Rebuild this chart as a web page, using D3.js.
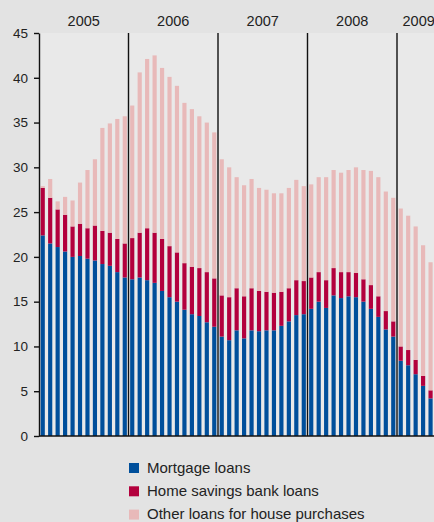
<!DOCTYPE html>
<html>
<head>
<meta charset="utf-8">
<script src="https://cdn.jsdelivr.net/npm/d3@7"></script>
<style>
  body { margin: 0; background: #e3e3e3; }
  svg { display: block; font-family: "Liberation Sans", Arial, sans-serif; }
</style>
</head>
<body>
<div id="chart"></div>
<script>
// years shown on top, months per year present in the chart
const years = ['2005', '2006', '2007', '2008', '2009'];
const monthsInYear = [12, 12, 12, 12, 5];

// percent, one value per month (Jan 2005 - May 2009)
const mortgage = [
  22.4, 21.5, 21.1, 20.6, 20.0, 20.1, 19.8, 19.6, 19.2, 19.0, 18.3, 17.7,
  17.5, 17.7, 17.4, 17.1, 16.2, 15.5, 15.0, 14.1, 13.6, 13.4, 12.7, 12.2,
  11.1, 10.7, 11.8, 10.9, 11.8, 11.7, 11.8, 11.8, 12.3, 12.8, 13.5, 13.6,
  14.2, 15.0, 14.3, 15.7, 15.4, 15.6, 15.5, 15.0, 14.2, 13.3, 11.9, 11.1,
  8.4, 7.9, 6.9, 5.6, 4.2
];
const homeSavings = [
  5.3, 5.1, 4.2, 4.1, 3.4, 3.6, 3.4, 3.9, 3.7, 3.7, 3.7, 3.8,
  4.6, 5.0, 5.8, 5.6, 5.8, 5.7, 5.5, 5.2, 5.3, 5.35, 5.6, 5.4,
  4.6, 4.8, 4.7, 4.7, 4.7, 4.5, 4.3, 4.2, 3.8, 3.7, 3.9, 3.7,
  3.5, 3.3, 3.1, 3.05, 2.9, 2.7, 2.7, 2.5, 2.65, 2.3, 2.05, 1.7,
  1.6, 1.7, 1.6, 1.1, 0.9
];
const otherLoans = [
  0.2, 2.1, 0.9, 2.0, 2.9, 4.6, 6.5, 7.4, 11.5, 12.2, 13.4, 14.2,
  14.8, 17.9, 18.9, 19.8, 19.1, 18.9, 18.6, 17.9, 17.6, 16.95, 16.7, 16.3,
  15.2, 14.5, 12.4, 12.4, 12.2, 11.5, 11.4, 11.1, 11.0, 11.2, 11.2, 10.6,
  10.4, 10.6, 11.5, 10.95, 11.1, 11.4, 11.8, 12.2, 12.75, 13.3, 13.35, 13.8,
  15.4, 15.0, 14.9, 14.6, 14.3
];
const yTicks = [0, 5, 10, 15, 20, 25, 30, 35, 40, 45];
const seriesNames = ['Mortgage loans', 'Home savings bank loans', 'Other loans for house purchases'];
const colours = ['#004f9b', '#b3003d', '#e8b9b9'];

// month categories
const months = [];
years.forEach((y, i) => {
  for (let m = 1; m <= monthsInYear[i]; m++) months.push(y + '-' + m);
});

const rows = months.map((m, i) => ({
  month: m, mortgage: mortgage[i], homeSavings: homeSavings[i], other: otherLoans[i]
}));

const width = 434;
const height = 522;
const plotLeft = 39;
const plotTop = 33;
const plotBottom = 436;
const step = 89.5 / 12;

const xScale = d3.scaleBand()
  .domain(months)
  .range([plotLeft, plotLeft + months.length * step])
  .paddingInner(0.44)
  .paddingOuter(0.22);

const yScale = d3.scaleLinear()
  .domain([0, 45])
  .range([plotBottom, plotTop]);

const stack = d3.stack().keys(['mortgage', 'homeSavings', 'other']);
const layers = stack(rows);

let svg = d3.select('#chart')
  .append('svg')
    .attr('width', width)
    .attr('height', height);

// plot background
svg.append('rect')
  .attr('x', plotLeft)
  .attr('y', plotTop)
  .attr('width', width - plotLeft)
  .attr('height', plotBottom - plotTop)
  .attr('fill', '#e9e9e9');

svg.selectAll('g.layer')
  .data(layers)
  .enter()
  .append('g')
    .attr('class', 'layer')
    .attr('fill', (d, i) => colours[i])
  .selectAll('rect')
  .data(d => d)
  .enter()
  .append('rect')
    .attr('x', d => xScale(d.data.month))
    .attr('y', d => yScale(d[1]))
    .attr('width', xScale.bandwidth())
    .attr('height', d => yScale(d[0]) - yScale(d[1]));

// year separators and labels
const gap = (xScale.step() - xScale.bandwidth()) / 2;
let startIdx = 0;
years.forEach((y, i) => {
  const first = months[startIdx];
  const last = months[startIdx + monthsInYear[i] - 1];
  const x0 = xScale(first) - gap;
  const x1 = xScale(last) + xScale.bandwidth() + gap;
  if (i > 0) {
    svg.append('line')
      .attr('x1', x0).attr('x2', x0)
      .attr('y1', plotTop).attr('y2', plotBottom)
      .attr('stroke', '#111')
      .attr('stroke-width', 1.4);
  }
  svg.append('text')
    .attr('x', i < years.length - 1 ? (x0 + x1) / 2 : (x0 + x1) / 2 + 3)
    .attr('y', 26)
    .attr('text-anchor', 'middle')
    .attr('font-size', '14.5px')
    .attr('fill', '#222')
    .text(y);
  startIdx += monthsInYear[i];
});

// y axis
let yAxis = svg.append('g')
  .attr('transform', `translate(${plotLeft}, 0)`)
  .call(d3.axisLeft(yScale).tickValues(yTicks).tickSize(5).tickPadding(6).tickSizeOuter(0));
yAxis.select('.domain').attr('stroke', '#111').attr('stroke-width', 1.4);
yAxis.selectAll('.tick line').attr('stroke', '#111').attr('stroke-width', 1.4);
yAxis.selectAll('.tick text')
  .attr('font-size', '13.5px')
  .attr('font-family', '"Liberation Sans", Arial, sans-serif')
  .attr('fill', '#222');

// x baseline
svg.append('line')
  .attr('x1', plotLeft).attr('x2', width)
  .attr('y1', plotBottom).attr('y2', plotBottom)
  .attr('stroke', '#111')
  .attr('stroke-width', 1.6);

// legend
let legend = svg.append('g');
seriesNames.forEach((name, i) => {
  const yy = 463 + i * 23.3;
  legend.append('rect')
    .attr('x', 129).attr('y', yy)
    .attr('width', 10).attr('height', 10)
    .attr('fill', colours[i]);
  legend.append('text')
    .attr('x', 147).attr('y', yy + 9.5)
    .attr('font-size', '15px')
    .attr('fill', '#222')
    .text(name);
});
</script>
</body>
</html>
